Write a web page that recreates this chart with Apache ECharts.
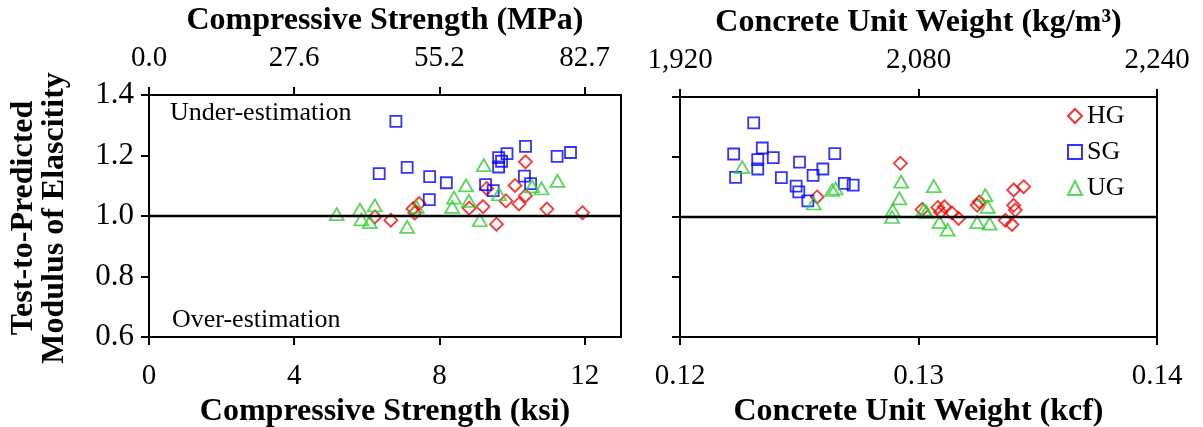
<!DOCTYPE html>
<html>
<head>
<meta charset="utf-8">
<script src="https://cdn.jsdelivr.net/npm/echarts@6/dist/echarts.min.js"></script>
<style>
  html, body { margin: 0; padding: 0; background: #fff; }
  #chart { width: 1203px; height: 427px; }
</style>
</head>
<body>
<div id="chart"></div>
<script>
// Compressive strength (ksi) and test-to-predicted ratio, by group
const hgStrength      = [6.22, 6.66, 7.27, 7.32, 7.44, 8.82, 9.20, 9.30, 9.57, 9.83, 10.08, 10.19, 10.37, 10.37, 10.96, 11.94];
const hgStrengthRatio = [0.997, 0.986, 1.024, 1.010, 1.041, 1.026, 1.031, 1.091, 0.973, 1.050, 1.101, 1.040, 1.067, 1.179, 1.023, 1.011];
const sgStrength      = [6.80, 6.34, 7.11, 7.73, 8.19, 7.72, 9.27, 9.48, 9.63, 9.71, 9.63, 9.86, 10.37, 10.34, 10.51, 11.24, 11.61];
const sgStrengthRatio = [1.313, 1.140, 1.161, 1.130, 1.110, 1.054, 1.104, 1.084, 1.193, 1.181, 1.162, 1.206, 1.230, 1.132, 1.107, 1.197, 1.210];
const ugStrength      = [5.17, 5.81, 5.85, 6.08, 6.22, 7.11, 7.37, 8.35, 8.40, 8.73, 8.81, 9.11, 9.22, 9.64, 10.55, 10.81, 11.25];
const ugStrengthRatio = [1.006, 1.021, 0.989, 0.980, 1.035, 0.964, 1.030, 1.030, 1.061, 1.101, 1.050, 0.986, 1.168, 1.072, 1.098, 1.091, 1.116];

// Concrete unit weight (kcf) and test-to-predicted ratio, by group
const hgUnitWeight      = [0.12575, 0.12924, 0.13015, 0.13081, 0.13109, 0.13092, 0.13141, 0.13168, 0.13255, 0.13246, 0.13399, 0.13441, 0.13399, 0.13406, 0.13364, 0.13392];
const hgUnitWeightRatio = [1.067, 1.179, 1.025, 1.032, 1.034, 1.016, 1.013, 0.995, 1.050, 1.039, 1.090, 1.101, 1.039, 1.023, 0.989, 0.975];
const sgUnitWeight      = [0.12309, 0.12225, 0.12233, 0.12345, 0.12326, 0.12326, 0.12391, 0.12425, 0.12501, 0.12487, 0.12498, 0.12536, 0.12558, 0.12599, 0.12649, 0.12689, 0.12726];
const sgUnitWeightRatio = [1.314, 1.210, 1.132, 1.230, 1.191, 1.160, 1.198, 1.131, 1.183, 1.103, 1.084, 1.054, 1.139, 1.160, 1.211, 1.112, 1.106];
const ugUnitWeight      = [0.12261, 0.12561, 0.12638, 0.12652, 0.12927, 0.12920, 0.12892, 0.12889, 0.13064, 0.13022, 0.13033, 0.13088, 0.13122, 0.13246, 0.13280, 0.13290, 0.13298];
const ugUnitWeightRatio = [1.166, 1.045, 1.090, 1.095, 1.118, 1.062, 1.023, 1.000, 1.103, 1.025, 1.017, 0.983, 0.958, 0.983, 1.073, 1.034, 0.978];

// Tick positions and labels (primary and secondary units)
const ksiTicks   = [0, 4, 8, 12];
const mpaLabels  = ['0.0', '27.6', '55.2', '82.7'];
const kcfTicks   = [0.12, 0.13, 0.14];
const kcfLabels  = ['0.12', '0.13', '0.14'];
const kgm3Labels = ['1,920', '2,080', '2,240'];

const FONT = '"Liberation Serif", "Times New Roman", serif';
const RED = '#ff0000', BLUE = '#0000ff', GREEN = '#33cc33';

const pairs = (xs, ys) => xs.map((x, i) => [x, ys[i]]);
const tickIndex = (ticks, v) => ticks.findIndex(t => Math.abs(t - v) < 1e-9);

const axisLineStyle = { show: true, lineStyle: { color: '#000', width: 2 } };
const tickStyle = { show: true, inside: false, length: 8, lineStyle: { color: '#000', width: 2 } };
const xLabelFont = { fontFamily: FONT, fontSize: 29, color: '#000' };
const yLabelFont = { fontFamily: FONT, fontSize: 31, color: '#000' };
const titleFont = { fontFamily: FONT, fontSize: 32, fontWeight: 'bold', color: '#000' };

function xAxisDef(gridIndex, position, min, max, ticks, labels, name) {
  return {
    type: 'value', gridIndex, position, min, max,
    name, nameLocation: 'middle',
    nameGap: position === 'top' ? 58 : 56,
    nameTextStyle: titleFont,
    axisLine: axisLineStyle,
    axisTick: Object.assign({ customValues: ticks }, tickStyle),
    axisLabel: Object.assign({
      customValues: ticks,
      margin: position === 'top' ? 22 : 25,
      formatter: v => labels[tickIndex(ticks, v)] ?? ''
    }, xLabelFont),
    splitLine: { show: false }
  };
}

function yAxisDef(gridIndex, showLabels) {
  return {
    type: 'value', gridIndex, min: 0.6, max: 1.4, interval: 0.2,
    axisLine: axisLineStyle,
    axisTick: tickStyle,
    axisLabel: Object.assign({ show: showLabels, margin: 15, formatter: v => v.toFixed(1) }, yLabelFont),
    splitLine: { show: false }
  };
}

// Horizontal reference at a ratio of 1.0
const refLine = {
  silent: true, symbol: 'none', label: { show: false },
  lineStyle: { color: '#000', width: 2.4, type: 'solid', opacity: 1 },
  emphasis: { disabled: true },
  data: [{ yAxis: 1.0 }]
};

function scatter(name, symbol, size, color, xIdx, yIdx, data, withRef) {
  const s = {
    name, type: 'scatter', xAxisIndex: xIdx, yAxisIndex: yIdx,
    symbol, symbolSize: size, data,
    itemStyle: { color: 'rgba(0,0,0,0)', borderColor: color, borderWidth: 1.8 },
    emphasis: { disabled: true },
    z: 3
  };
  if (withRef) s.markLine = refLine;
  return s;
}

const chart = echarts.init(document.getElementById('chart'), null, { renderer: 'canvas' });

chart.setOption({
  animation: false,
  backgroundColor: '#fff',
  textStyle: { fontFamily: FONT },
  grid: [
    { left: 149, top: 95, width: 472, height: 242, show: true, borderColor: '#000', borderWidth: 2, backgroundColor: 'rgba(0,0,0,0)', outerBoundsMode: 'none', containLabel: false },
    { left: 680, top: 97, width: 477, height: 240, show: true, borderColor: '#000', borderWidth: 2, backgroundColor: 'rgba(0,0,0,0)', outerBoundsMode: 'none', containLabel: false }
  ],
  xAxis: [
    xAxisDef(0, 'bottom', 0, 13, ksiTicks, ksiTicks.map(String), 'Compressive Strength (ksi)'),
    xAxisDef(0, 'top', 0, 13, ksiTicks, mpaLabels, 'Compressive Strength (MPa)'),
    xAxisDef(1, 'bottom', 0.12, 0.14, kcfTicks, kcfLabels, 'Concrete Unit Weight (kcf)'),
    xAxisDef(1, 'top', 0.12, 0.14, kcfTicks, kgm3Labels, 'Concrete Unit Weight (kg/m³)')
  ],
  yAxis: [yAxisDef(0, true), yAxisDef(1, false)],
  legend: {
    orient: 'vertical', left: 1062, top: 98,
    itemWidth: 14, itemHeight: 14, itemGap: 10,
    textStyle: { fontFamily: FONT, fontSize: 26, color: '#000' },
    data: ['HG', 'SG', 'UG']
  },
  graphic: [
    {
      type: 'text', x: 39, y: 218, rotation: Math.PI / 2,
      style: {
        text: 'Test-to-Predicted\nModulus of Elascitity',
        font: 'bold 32px ' + FONT, fill: '#000',
        align: 'center', verticalAlign: 'middle', lineHeight: 31
      }
    },
    {
      type: 'text', x: 170, y: 113,
      style: { text: 'Under-estimation', font: '26px ' + FONT, fill: '#000', align: 'left', verticalAlign: 'middle' }
    },
    {
      type: 'text', x: 172, y: 320,
      style: { text: 'Over-estimation', font: '26px ' + FONT, fill: '#000', align: 'left', verticalAlign: 'middle' }
    }
  ],
  series: [
    scatter('HG', 'diamond', 13, RED, 0, 0, pairs(hgStrength, hgStrengthRatio), true),
    scatter('SG', 'rect', 11, BLUE, 0, 0, pairs(sgStrength, sgStrengthRatio), false),
    scatter('UG', 'triangle', [14, 12], GREEN, 0, 0, pairs(ugStrength, ugStrengthRatio), false),
    scatter('HG', 'diamond', 13, RED, 2, 1, pairs(hgUnitWeight, hgUnitWeightRatio), true),
    scatter('SG', 'rect', 11, BLUE, 2, 1, pairs(sgUnitWeight, sgUnitWeightRatio), false),
    scatter('UG', 'triangle', [14, 12], GREEN, 2, 1, pairs(ugUnitWeight, ugUnitWeightRatio), false)
  ]
});
</script>
</body>
</html>
